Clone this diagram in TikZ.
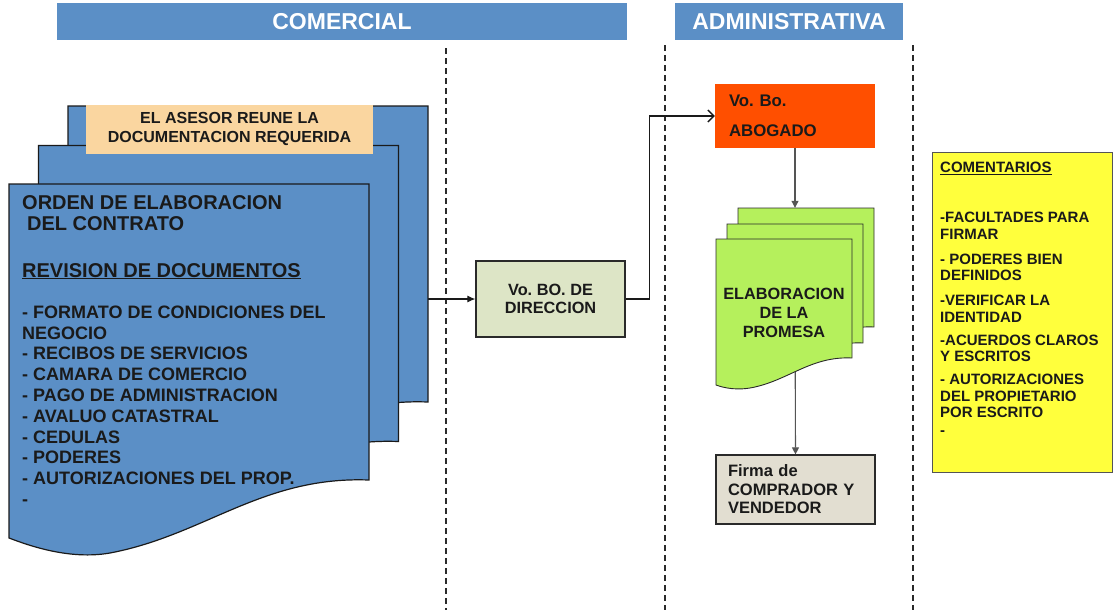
\documentclass[tikz,border=0pt]{standalone}
\usepackage{fontspec}
\setmainfont{Liberation Sans}
\usetikzlibrary{arrows.meta}
\definecolor{hdrblue}{HTML}{5B8FC6}
\definecolor{docblue}{HTML}{5B8FC6}
\definecolor{peach}{HTML}{FAD6A0}
\definecolor{voboF}{HTML}{DDE5C6}
\definecolor{orng}{HTML}{FF4F00}
\definecolor{grn}{HTML}{B5F05C}
\definecolor{firmaF}{HTML}{E2DED1}
\definecolor{yel}{HTML}{FFFF3C}
\definecolor{ink}{HTML}{1A1A1A}
\definecolor{edge}{HTML}{2A2A2A}
\definecolor{grayline}{HTML}{555555}
\frenchspacing
\begin{document}
\begin{tikzpicture}[x=1pt,y=-1pt,
  hdr/.style={fill=hdrblue, text=white, inner sep=0pt, font=\fontsize{23}{26}\selectfont\bfseries},
  lane/.style={draw=edge, line width=1.1pt, dash pattern=on 6pt off 4pt},
  boxnode/.style={inner sep=0pt, text=ink},
  doctxt/.style={inner sep=0pt, text=ink, align=left},
  conn/.style={draw=ink, line width=1.1pt},
  gconn/.style={draw=grayline, line width=1.1pt, -{Triangle[length=7pt,width=7pt]}},
  bluedoc/.style={fill=docblue, draw=ink, line width=1.2pt},
  greendoc/.style={fill=grn, draw=edge, line width=0.9pt}
]
\useasboundingbox (0,0) rectangle (1113,613);

% headers
\node[hdr, minimum width=570pt, minimum height=37pt] (hcom) at (342,21.5) {COMERCIAL};
\node[hdr, minimum width=228pt, minimum height=37pt] (hadm) at (789,21.5) {ADMINISTRATIVA};

% lanes
\draw[lane] (446,48) -- (446,610);
\draw[lane] (665,45) -- (665,610);
\draw[lane] (913,45) -- (913,610);

% invisible stack nodes
\node[inner sep=0pt, minimum width=419pt, minimum height=448pt] (bluestack) at (218.5,330) {};
\node[inner sep=0pt, minimum width=158pt, minimum height=183pt] (greenstack) at (795,299.5) {};

% boxes
\node[boxnode, fill=voboF, draw=edge, line width=1.2pt, minimum width=149pt, minimum height=76pt,
      align=center, font=\fontsize{16.3}{18.5}\selectfont\bfseries] (vobo) at (550.5,299) {Vo. BO. DE\\DIRECCION};
\node[boxnode, fill=orng, minimum width=160pt, minimum height=64pt, inner xsep=14pt, text width=132pt,
      align=left, font=\fontsize{16.8}{30}\selectfont\bfseries] (abogado) at (795,116) {Vo. Bo.\\ABOGADO};
\node[boxnode, fill=firmaF, draw=edge, line width=1.2pt, minimum width=159pt, minimum height=69pt, inner xsep=12pt,
      text width=135pt, align=left, font=\fontsize{16.5}{18.5}\selectfont\bfseries] (firma) at (795.5,489.5) {Firma de\\COMPRADOR Y\\VENDEDOR};
\node[inner sep=0pt, fill=yel, draw=grayline, line width=0.8pt, minimum width=180pt, minimum height=320pt] (coment) at (1022,312) {};

% connectors
\draw[conn, -{Latex[length=8pt,width=7pt]}] (bluestack.east |- vobo.west) -- (vobo.west);
\draw[conn, -{Straight Barb[length=6pt,width=12pt,line width=1.3pt]}] (vobo.east) -- ++(24,0) |- (abogado.west);
\draw[gconn] (abogado.south) -- (greenstack.north);
\draw[gconn] (greenstack.center) -- (firma.north);

% blue document stack
\foreach \dx/\dy in {59/-78, 29.5/-38.5, 0/0}{
  \begin{scope}[shift={(\dx,\dy)}]
    \draw[bluedoc] (9,184) -- (369,184) -- (369,480)
      .. controls (262,476) and (205,535) .. (110,553)
      .. controls (70,560) and (30,546) .. (9,538) -- cycle;
  \end{scope}
  \ifdim\dx pt=29.5pt
    \node[boxnode, fill=peach, minimum width=287pt, minimum height=49pt, align=center,
          font=\fontsize{16}{19.4}\selectfont\bfseries] (asesor) at (229.5,129) {EL ASESOR REUNE LA\\DOCUMENTACION REQUERIDA};
  \fi
}

\node[doctxt, anchor=base west, font=\fontsize{20}{21}\selectfont\bfseries] (orden) at (22,209) {ORDEN DE ELABORACION};
\node[doctxt, anchor=base west, font=\fontsize{20}{21}\selectfont\bfseries] (contrato) at (27,230) {DEL CONTRATO};
\node[doctxt, anchor=base west, font=\fontsize{20}{21}\selectfont\bfseries] (revision) at (22,277) {\underline{REVISION DE DOCUMENTOS}};
\node[doctxt, anchor=north west, font=\fontsize{18}{20.8}\selectfont\bfseries] (lista) at (22,305.5)
  {- FORMATO DE CONDICIONES DEL\\
   NEGOCIO\\
   - RECIBOS DE SERVICIOS\\
   - CAMARA DE COMERCIO\\
   - PAGO DE ADMINISTRACION\\
   - AVALUO CATASTRAL\\
   - CEDULAS\\
   - PODERES\\
   - AUTORIZACIONES DEL PROP.\\
   -};

% green document stack
\foreach \dx/\dy in {22/-31, 11/-15, 0/0}{
  \begin{scope}[shift={(\dx,\dy)}]
    \draw[greendoc] (716,239) -- (852,239) -- (852,358)
      .. controls (812,356) and (790,379) .. (755,387)
      .. controls (738,391) and (724,388) .. (716,385) -- cycle;
  \end{scope}
}
\node[doctxt, align=center, anchor=north, font=\fontsize{16.3}{18.8}\selectfont\bfseries] (promesa) at (784,288)
  {ELABORACION\\DE LA\\PROMESA};

% comments text
\node[doctxt, anchor=north west, font=\fontsize{15}{16.5}\selectfont\bfseries] (comtxt) at (940,162.2)
  {\underline{COMENTARIOS}\\[33.5pt]
   -FACULTADES PARA\\
   FIRMAR\\[8.5pt]
   - PODERES BIEN\\
   DEFINIDOS\\[8.5pt]
   -VERIFICAR LA\\
   IDENTIDAD\\[6.5pt]
   -ACUERDOS CLAROS\\
   Y ESCRITOS\\[6.5pt]
   - AUTORIZACIONES\\
   DEL PROPIETARIO\\
   POR ESCRITO\\[1.5pt]
   -};
\end{tikzpicture}
\end{document}
